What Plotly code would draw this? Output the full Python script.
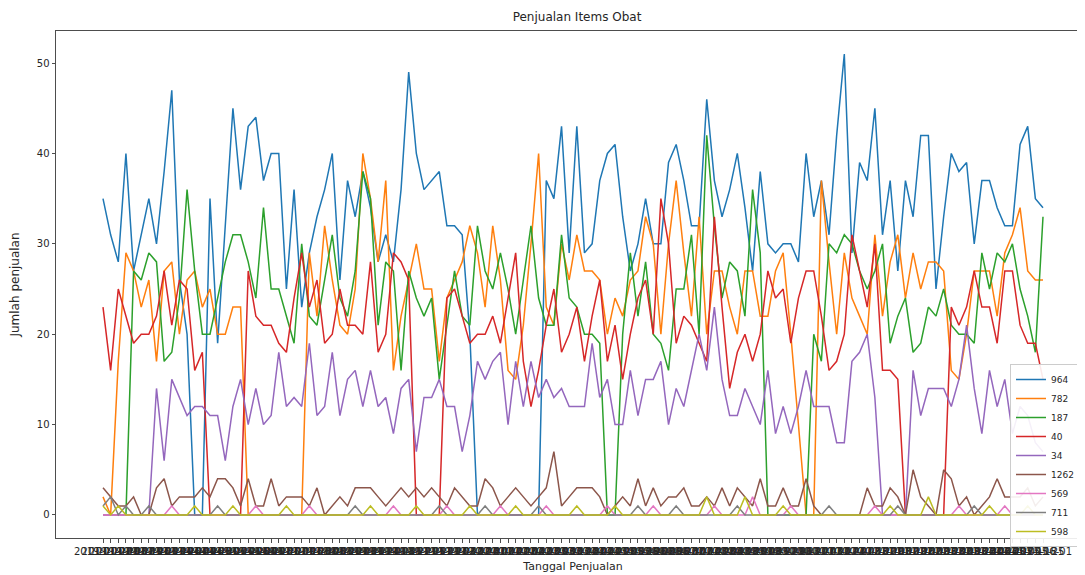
import pandas as pd
import plotly.graph_objects as go

tanggal = [d.strftime("%Y-%m-%d") for d in pd.date_range(end="2021-06-01", periods=124, freq="7D")]

s964 = [35,31,28,40,27,31,35,30,38,47,26,20,0,0,35,19,32,45,36,43,44,37,40,40,25,36,23,29,33,36,
        40,26,37,33,38,34,28,31,28,36,49,40,36,37,38,32,32,31,20,0,0,0,0,0,0,0,0,0,37,35,
        43,29,43,29,30,37,40,41,33,27,30,35,30,30,39,41,37,32,32,46,37,33,36,40,34,27,38,30,29,30,
        30,28,40,33,37,31,42,51,29,39,37,45,31,37,27,37,33,42,42,25,33,40,38,39,30,37,37,34,32,32,
        41,43,35,34]
s782 = [2,0,17,29,27,23,26,17,27,28,20,26,27,23,25,20,20,23,23,0,0,0,0,0,0,0,0,29,22,32,
        26,21,20,25,40,35,28,37,16,22,26,30,25,25,17,24,26,28,32,29,23,32,26,16,15,21,30,40,23,21,
        30,26,31,27,27,26,20,24,22,26,27,33,30,20,30,37,29,22,33,20,27,27,23,20,27,27,22,22,27,29,
        20,10,0,0,37,28,20,29,24,22,20,31,22,28,31,24,29,25,28,28,27,16,15,20,27,27,27,22,29,31,
        34,27,26,26]
s187 = [0,0,0,0,27,26,29,28,17,18,24,36,27,20,20,24,28,31,31,28,24,34,25,25,22,19,30,22,21,26,
        31,24,22,27,38,35,21,28,27,16,27,24,22,24,15,21,27,22,21,32,27,25,29,25,20,26,32,24,21,21,
        31,24,23,20,20,19,0,0,20,29,22,28,20,19,16,25,25,31,20,42,32,24,28,27,22,36,29,0,0,0,
        0,0,0,20,17,30,29,31,30,27,25,27,30,19,22,24,18,19,23,22,25,21,20,20,19,29,25,29,28,30,
        25,22,18,33]
s40 = [23,16,25,22,19,20,20,22,27,21,26,25,16,18,0,0,0,0,0,27,22,21,21,19,18,24,29,23,26,19,
       20,25,21,21,20,28,18,20,29,28,26,0,0,0,0,24,25,22,19,20,20,22,19,24,29,17,12,16,21,25,
       18,20,23,17,22,26,17,21,15,20,24,26,20,35,30,19,22,21,19,17,33,23,14,18,20,17,20,27,24,25,
       19,24,27,27,22,16,17,20,31,27,23,30,16,16,15,0,0,0,0,0,0,23,21,23,27,23,23,19,27,27,
       21,19,19,15]
s34 = [0,0,0,0,0,0,0,14,6,15,13,11,12,12,11,11,6,12,15,10,14,10,11,18,12,13,12,19,11,12,
       18,11,15,16,12,16,12,13,9,14,15,7,13,13,15,12,12,7,11,17,15,17,18,10,17,12,17,13,15,13,
       14,12,12,12,19,13,15,10,10,16,11,15,15,17,10,14,12,16,20,16,23,15,11,11,14,12,10,16,9,12,
       9,12,16,12,12,12,8,8,17,18,20,13,0,0,0,0,16,11,14,14,14,12,15,21,14,9,16,12,15,9,
       12,11,8,7]
s1262 = [3,2,1,1,2,0,0,3,4,1,2,2,2,3,2,4,4,3,1,4,1,1,4,1,2,2,2,1,3,0,
         1,2,1,3,3,3,2,1,2,3,2,3,2,3,2,1,3,2,1,1,4,3,1,2,3,2,1,2,3,7,
         1,2,3,3,3,2,0,1,2,1,4,1,3,1,2,2,3,1,1,2,1,3,1,3,2,1,4,1,1,3,
         1,1,4,1,0,0,0,0,0,0,3,1,1,3,2,0,5,2,1,0,5,4,1,2,0,1,2,4,2,2,
         2,3,1,2]
s569 = [0,0,0,0,0,0,0,0,0,1,0,0,0,0,0,0,0,0,0,0,1,0,0,0,0,0,0,1,0,0,
        0,0,0,0,0,0,0,0,1,0,0,0,0,0,0,1,0,0,0,0,0,0,1,0,0,0,0,0,1,0,
        0,0,0,0,0,0,1,0,0,0,0,0,1,0,0,0,0,0,0,0,1,0,0,0,0,2,0,0,0,0,
        1,0,0,0,0,0,0,0,0,0,0,1,0,0,0,0,0,0,0,0,0,0,1,0,0,0,0,0,1,0,
        0,0,0,0]
s711 = [1,2,0,1,0,0,1,0,0,0,0,0,0,0,0,1,0,0,0,0,0,0,0,0,0,0,0,0,0,0,
        0,0,0,1,0,0,0,0,0,0,0,0,0,0,1,0,0,0,0,0,1,0,0,0,0,0,0,1,0,0,
        0,0,0,0,0,0,0,0,0,0,1,0,0,0,0,1,0,0,0,0,0,0,0,1,0,0,0,0,0,0,
        0,0,0,0,0,1,0,0,0,0,0,0,0,0,1,0,0,0,0,0,0,0,0,0,1,0,0,0,0,0,
        0,0,0,0]
s598 = [1,0,1,0,0,0,0,0,0,0,0,0,1,0,0,0,0,1,0,0,0,0,0,0,1,0,0,0,0,0,
        0,0,0,0,0,1,0,0,0,0,0,1,0,0,0,0,0,0,1,0,0,0,0,0,1,0,0,0,0,0,
        0,0,1,0,0,0,0,1,0,0,0,0,0,0,0,0,0,0,0,2,0,0,0,0,2,0,0,0,0,1,
        0,0,0,0,0,0,0,0,0,0,0,0,0,1,0,0,0,0,2,0,0,0,0,0,0,0,1,0,0,0,
        0,1,0,0]

series_names = ["964", "782", "187", "40", "34", "1262", "569", "711", "598"]
series_values = [s964, s782, s187, s40, s34, s1262, s569, s711, s598]
colors = ["#1f77b4", "#ff7f0e", "#2ca02c", "#d62728", "#9467bd",
          "#8c564b", "#e377c2", "#7f7f7f", "#bcbd22"]

fig = go.Figure()
for name, vals, c in zip(series_names, series_values, colors):
    fig.add_trace(go.Scatter(x=tanggal, y=vals, mode="lines", name=name,
                             line=dict(color=c, width=1.5)))

# the page body adds an 8px offset; layout numbers below are in figure pixels
W, H = 1085, 575
OFF = 8
ML, MR, MT, MB = 56 - OFF, 3, 31 - OFF, H - (538 - OFF)
PW = W - ML - MR
PH = H - MT - MB
fig.update_layout(
    width=W, height=H,
    margin=dict(l=ML, r=MR, t=MT, b=MB, autoexpand=False),
    paper_bgcolor="white", plot_bgcolor="white",
    font=dict(family="DejaVu Sans", size=10, color="#262626"),
    title=dict(text="Penjualan Items Obat", x=(577 - OFF) / W, xanchor="center",
               y=1 - (17 - OFF) / H, yanchor="middle", font=dict(size=12, color="#262626")),
    showlegend=True,
    legend=dict(x=(1010 - OFF - ML) / PW, xanchor="left",
                y=(H - MB - (364 - OFF)) / PH, yanchor="top",
                bgcolor="rgba(255,255,255,0.9)", bordercolor="#cccccc", borderwidth=1,
                font=dict(size=9, color="#262626"), tracegroupgap=0, itemwidth=30),
)
fig.update_xaxes(
    type="category", range=[-6.15, 129.15], automargin=False,
    tickmode="array", tickvals=tanggal, ticktext=tanggal, tickangle=0,
    showgrid=False, zeroline=False,
    showline=True, linecolor="#4d4d4d", linewidth=1, mirror=True,
    ticks="outside", ticklen=3.5, tickcolor="#4d4d4d",
    tickfont=dict(size=10, color="#262626"),
    title=dict(text="Tanggal Penjualan", font=dict(size=11, color="#262626"), standoff=6),
)
fig.update_yaxes(
    range=[-2.55, 53.55], tickvals=[0, 10, 20, 30, 40, 50], automargin=False,
    showgrid=False, zeroline=False,
    showline=True, linecolor="#4d4d4d", linewidth=1, mirror=True,
    ticks="outside", ticklen=3.5, tickcolor="#4d4d4d",
    tickfont=dict(size=10, color="#262626"),
    title=dict(text="Jumlah penjualan", font=dict(size=12, color="#262626"), standoff=15),
)
fig.write_html("out.html")
